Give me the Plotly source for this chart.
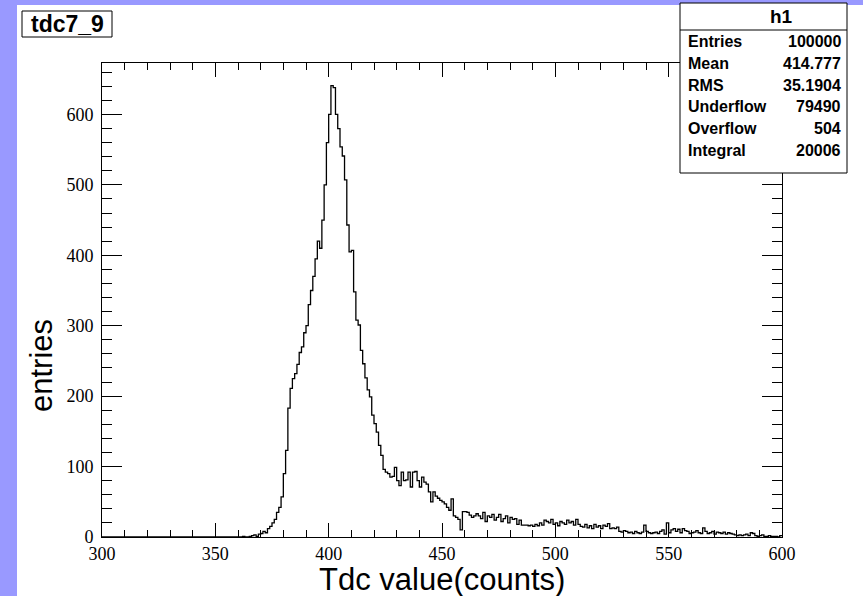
import plotly.graph_objects as go

# ---------------- data ----------------
hist_title = "tdc7_9"
x_title = "Tdc value(counts)"
y_title = "entries"
bin_low, bin_high = 300, 600
bin_edges = list(range(bin_low, bin_high + 1))

counts_300_359 = [0] * 60
counts_360_424 = [
    0, 0, 1, 0, 0, 1, 2, 3, 1, 4,
    5, 8, 6, 12, 15, 20, 25, 35, 42, 57,
    90, 123, 183, 211, 225, 232, 245, 262, 270, 290,
    300, 330, 350, 370, 395, 420, 410, 450, 500, 560,
    600, 641, 638, 600, 580, 554, 541, 507, 443, 405,
    407, 348, 308, 301, 265, 246, 226, 209, 199, 173,
    161, 149, 130, 116, 96,
]
counts_425_465 = [
    92, 90, 85, 86, 99, 80, 73, 92, 80, 81,
    92, 71, 92, 93, 80, 71, 85, 78, 75, 64,
    50, 64, 58, 55, 52, 50, 47, 42, 38, 54,
    30, 28, 25, 10, 36, 36, 35, 31, 28, 30, 33,
]
counts_466_599 = [
    30, 26, 35, 22, 30, 28, 32, 24, 28, 32,
    22, 26, 30, 20, 28, 25, 26, 18, 24, 17,
    17, 17, 16, 17, 15, 18, 16, 20, 17, 24,
    22, 20, 25, 18, 20, 16, 22, 20, 18, 24,
    20, 22, 17, 25, 18, 15, 14, 18, 13, 16,
    12, 18, 14, 16, 12, 17, 15, 19, 12, 13,
    12, 14, 8, 7, 9, 8, 6, 7, 5, 8,
    6, 5, 7, 17, 8, 6, 5, 6, 7, 5,
    8, 10, 4, 20, 6, 10, 12, 8, 11, 6,
    12, 9, 8, 5, 6, 7, 9, 6, 5, 13,
    8, 5, 6, 8, 4, 7, 6, 5, 7, 4,
    6, 5, 4, 3, 2, 3, 2, 3, 4, 2,
    6, 5, 2, 1, 2, 3, 1, 1, 2, 1,
    1, 1, 0, 2,
]
counts = counts_300_359 + counts_360_424 + counts_425_465 + counts_466_599

stats_labels = ["Entries", "Mean", "RMS", "Underflow", "Overflow", "Integral"]
stats_values = ["100000", "414.777", "35.1904", "79490", "504", "20006"]
stats_name = "h1"

x_ticks = [300, 350, 400, 450, 500, 550, 600]
y_ticks = [0, 100, 200, 300, 400, 500, 600]
y_max = 1.05 * max(counts)

# ---------------- layout geometry (pixels) ----------------
W, H = 863, 596
L, R, T, B = 102, 782, 63, 537


def px(x):
    return (x - L) / (R - L)


def py(y):
    return (B - y) / (B - T)


PURPLE = "#9999ff"
SANS = "Liberation Sans, Arial, sans-serif"
SERIF = "Liberation Serif, Times New Roman, serif"

fig = go.Figure()
fig.add_trace(go.Scatter(
    x=bin_edges,
    y=counts + [counts[-1]],
    mode="lines",
    line=dict(color="black", width=1.3, shape="hv"),
    hoverinfo="skip",
    showlegend=False,
))

axis_common = dict(
    showline=True, linecolor="black", linewidth=1, mirror="allticks",
    ticks="inside", tickcolor="black", tickwidth=1,
    showgrid=False, zeroline=False,
    tickfont=dict(family=SERIF, size=18, color="black"),
)

fig.update_xaxes(
    range=[bin_low, bin_high], tickvals=x_ticks, ticklen=14,
    minor=dict(dtick=10, ticklen=7, ticks="inside", tickcolor="black", tickwidth=1),
    **axis_common,
)
fig.update_yaxes(
    range=[0, y_max], tickvals=y_ticks, ticklen=20, ticklabelstandoff=4,
    minor=dict(dtick=20, ticklen=10, ticks="inside", tickcolor="black", tickwidth=1),
    **axis_common,
)

shapes = []
# canvas border strips
shapes.append(dict(type="rect", xref="paper", yref="paper",
                   x0=px(0), x1=px(17), y0=py(H), y1=py(0),
                   fillcolor=PURPLE, line=dict(width=0)))
shapes.append(dict(type="rect", xref="paper", yref="paper",
                   x0=px(0), x1=px(W), y0=py(5), y1=py(0),
                   fillcolor=PURPLE, line=dict(width=0)))
# title box
shapes.append(dict(type="rect", xref="paper", yref="paper",
                   x0=px(22), x1=px(112), y0=py(37), y1=py(11),
                   fillcolor="white", line=dict(color="black", width=1)))
# stats box
shapes.append(dict(type="rect", xref="paper", yref="paper",
                   x0=px(680), x1=px(847), y0=py(173), y1=py(3),
                   fillcolor="white", line=dict(color="black", width=1)))
shapes.append(dict(type="line", xref="paper", yref="paper",
                   x0=px(680), x1=px(847), y0=py(30), y1=py(30),
                   line=dict(color="black", width=1)))

annotations = []
annotations.append(dict(text="<b>%s</b>" % hist_title, xref="paper", yref="paper",
                        x=px(67), y=py(24), xanchor="center", yanchor="middle",
                        showarrow=False, font=dict(family=SANS, size=23, color="black")))
annotations.append(dict(text="<b>%s</b>" % stats_name, xref="paper", yref="paper",
                        x=px(781), y=py(16.5), xanchor="center", yanchor="middle",
                        showarrow=False, font=dict(family=SANS, size=19, color="black")))
row_y = [41.7, 63, 85, 107, 128.5, 150]
for lab, val, yy in zip(stats_labels, stats_values, row_y):
    annotations.append(dict(text="<b>%s</b>" % lab, xref="paper", yref="paper",
                            x=px(686), y=py(yy), xanchor="left", yanchor="middle",
                            showarrow=False, font=dict(family=SANS, size=16, color="black")))
    annotations.append(dict(text="<b>%s</b>" % val, xref="paper", yref="paper",
                            x=px(843), y=py(yy), xanchor="right", yanchor="middle",
                            showarrow=False, font=dict(family=SANS, size=16, color="black")))
# axis titles
annotations.append(dict(text=x_title, xref="paper", yref="paper",
                        x=0.5, y=py(579), xanchor="center", yanchor="middle",
                        showarrow=False, font=dict(family=SANS, size=31, color="black")))
annotations.append(dict(text=y_title, xref="paper", yref="paper",
                        x=px(41), y=py(366), xanchor="center", yanchor="middle",
                        textangle=-90,
                        showarrow=False, font=dict(family=SANS, size=31, color="black")))

fig.update_layout(
    width=W, height=H,
    margin=dict(l=L, r=W - R, t=T, b=H - B),
    paper_bgcolor="white", plot_bgcolor="white",
    shapes=shapes, annotations=annotations,
    showlegend=False,
)

fig.write_html("out.html")
